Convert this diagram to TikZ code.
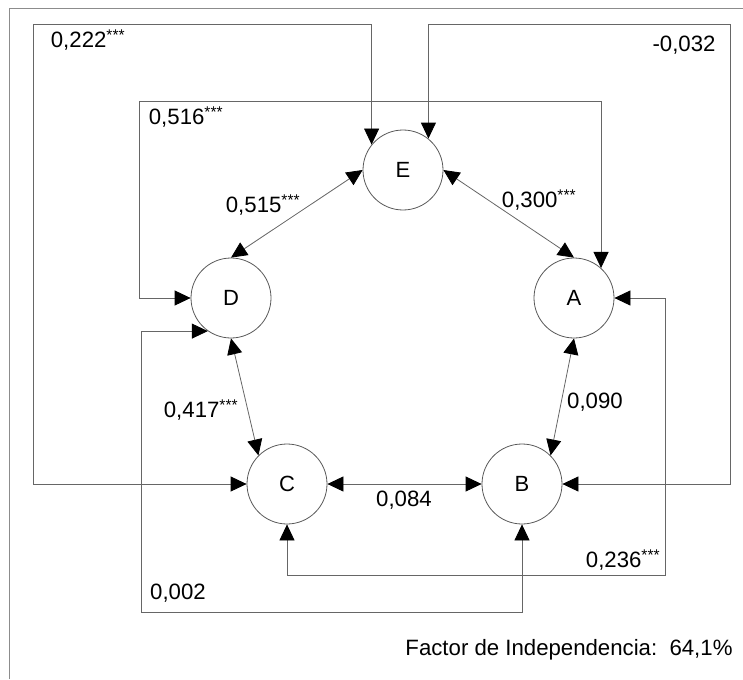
\documentclass[tikz,border=0pt]{standalone}
\usepackage{fontspec}
\setmainfont{Liberation Sans}
\usetikzlibrary{arrows.meta}
\newcommand\sigs{\textsuperscript{***}}
\begin{document}
\begin{tikzpicture}[x=1pt,y=-1pt,
  conn/.style={draw=black!60, line width=0.8pt, {Triangle[length=16pt,width=15pt,color=black]}-{Triangle[length=16pt,width=15pt,color=black]}},
  var/.style={circle, draw=black!65, line width=0.8pt, minimum size=80pt, inner sep=0pt, font=\fontsize{22}{26}\selectfont},
  lab/.style={font=\fontsize{22.2}{26}\selectfont, inner sep=0pt},
  frame/.style={draw=black!45, line width=0.8pt}
]
\useasboundingbox (0,0) rectangle (743,679);
\draw[frame] (9,679) -- (9,8) -- (743,8);

\node[var] (E) at (403,170) {E};
\node[var] (A) at (574,298) {A};
\node[var] (D) at (231,298) {D};
\node[var] (C) at (287,484) {C};
\node[var] (B) at (522,484) {B};

\coordinate (p1) at (33,24);
\coordinate (p2) at (730,24);
\coordinate (p3) at (139,101);
\coordinate (p4) at (665,575);
\coordinate (p5) at (141,612);

% direct links
\draw[conn] (D.north) -- (E.west);
\draw[conn] (E.east) -- (A.north);
\draw[conn] (D.south) -- (C.135);
\draw[conn] (A.south) -- (B.45);
\draw[conn] (C.east) -- (B.west);

% routed links
\draw[conn] (C.west) -- (C.west -| p1) -- (p1) -- (E.141 |- p1) -- (E.141);
\draw[conn] (E.51) -- (E.51 |- p2) -- (p2) -- (p2 |- B.east) -- (B.east);
\draw[conn] (D.west) -- (D.west -| p3) -- (p3) -- (A.48 |- p3) -- (A.48);
\draw[conn] (A.east) -- (A.east -| p4) -- (p4) -- (C.south |- p4) -- (C.south);
\draw[conn] (D.235) -- (D.235 -| p5) -- (p5) -- (B.south |- p5) -- (B.south);

% labels
\node[lab] (l222) at (88,40) {0,222\sigs};
\node[lab] (l032) at (684,45) {-0,032};
\node[lab] (l516) at (186,117) {0,516\sigs};
\node[lab] (l515) at (263,205) {0,515\sigs};
\node[lab] (l300) at (539,200) {0,300\sigs};
\node[lab] (l417) at (201,410) {0,417\sigs};
\node[lab] (l090) at (595,402) {0,090};
\node[lab] (l084) at (404,500) {0,084};
\node[lab] (l236) at (623,560) {0,236\sigs};
\node[lab] (l002) at (178,593) {0,002};
\node[lab] (fac) at (569,650) {Factor de Independencia:\ \ 64,1\%};
\end{tikzpicture}
\end{document}
